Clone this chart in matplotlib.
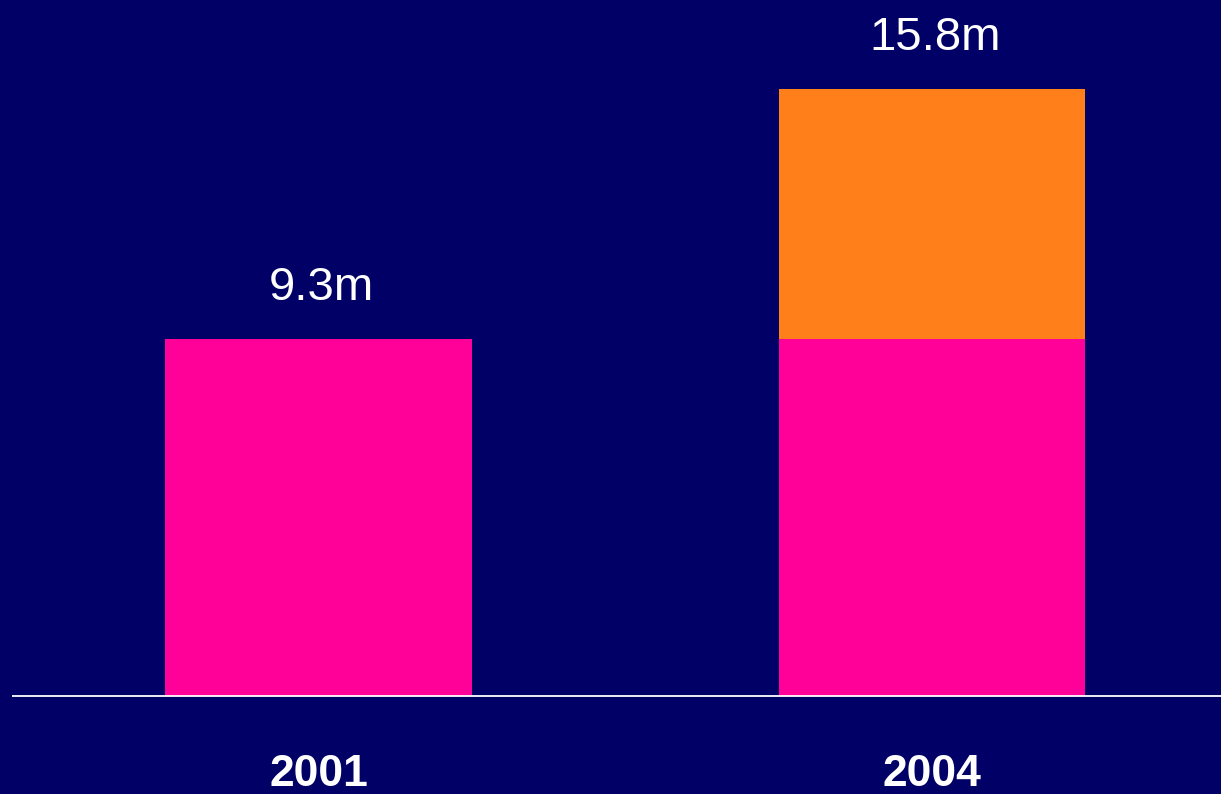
import matplotlib
matplotlib.use("Agg")
import matplotlib.pyplot as plt
import numpy as np

years = ["2001", "2004"]
base_values = [9.3, 9.3]
added_values = [0.0, 6.5]
total_labels = ["9.3m", "15.8m"]

BG = "#000066"
PINK = "#FF0099"
ORANGE = "#FF801A"

plt.rcParams["font.family"] = ["Liberation Sans", "DejaVu Sans"]

fig = plt.figure(figsize=(12.21, 7.94), dpi=100, facecolor=BG)
ax = fig.add_axes([0, 98 / 794, 1, 696 / 794])
ax.set_facecolor(BG)

x = np.arange(len(years))
base = np.array(base_values)
added = np.array(added_values)
totals = base + added

ax.bar(x, base, width=0.5, color=PINK, linewidth=0)
ax.bar(x, added, bottom=base, width=0.5, color=ORANGE, linewidth=0)

# value labels above each stack
for xi, tot, lab in zip(x, totals, total_labels):
    ax.annotate(lab, (xi, tot), xytext=(2, 28), textcoords="offset points",
                ha="center", va="baseline", color="white", fontsize=34)

ax.hlines(0, -0.5, 2, color="white", lw=1.3, clip_on=False, zorder=3)

ax.set_xlim(-0.519, 1.471)
ax.set_ylim(0, 696 / 38.4)
ax.set_xticks(x)
ax.set_xticklabels(years, fontsize=32, fontweight="bold", color="white")
ax.tick_params(axis="x", length=0, pad=42)
ax.set_yticks([])
for s in ax.spines.values():
    s.set_visible(False)

fig.savefig("out.png", dpi=100, facecolor=BG)
